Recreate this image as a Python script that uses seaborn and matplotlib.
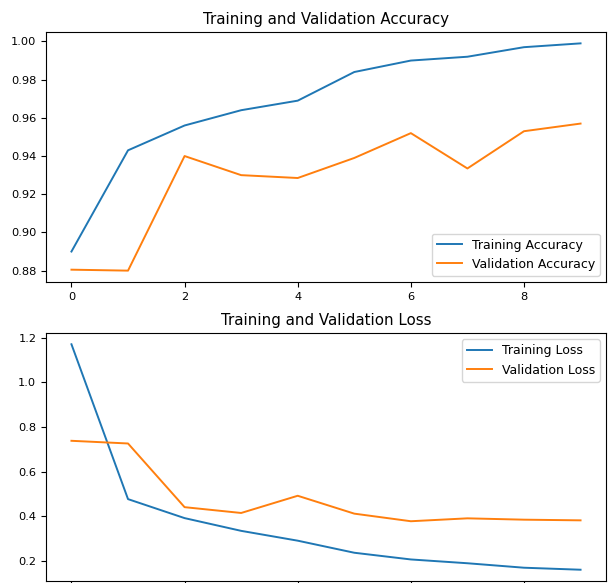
# %%
# 1. Import packages

import matplotlib
matplotlib.use("Agg")
import matplotlib.pyplot as plt
import seaborn as sns

# %%
# 2. Training history

epochs = list(range(10))
acc = [0.890, 0.943, 0.956, 0.964, 0.969, 0.984, 0.990, 0.992, 0.997, 0.999]
val_acc = [0.8805, 0.880, 0.940, 0.930, 0.9285, 0.939, 0.952, 0.9335, 0.953, 0.957]
loss = [1.170, 0.477, 0.392, 0.335, 0.291, 0.237, 0.207, 0.190, 0.170, 0.161]
val_loss = [0.738, 0.726, 0.441, 0.415, 0.492, 0.412, 0.378, 0.391, 0.385, 0.382]

# %%
# 3. Plot

plt.rcParams['font.family'] = ['DejaVu Sans']
plt.rcParams['xtick.labelsize'] = 8.2
plt.rcParams['ytick.labelsize'] = 8.2

blue = '#1f77b4'
orange = '#ff7f0e'

fig = plt.figure(figsize=(6.09, 5.83), dpi=100)
W, H = 609, 583

# Top: accuracy
ax1 = fig.add_axes([46 / W, 1 - 282 / H, 560 / W, 250 / H])
sns.lineplot(x=epochs, y=acc, ax=ax1, color=blue, linewidth=1.4, label='Training Accuracy')
sns.lineplot(x=epochs, y=val_acc, ax=ax1, color=orange, linewidth=1.4, label='Validation Accuracy')
ax1.legend(loc='lower right', fontsize=9)
ax1.set_title('Training and Validation Accuracy', fontsize=10.8)

# Bottom: loss
ax2 = fig.add_axes([46 / W, 1 - 581 / H, 560 / W, 248 / H])
sns.lineplot(x=epochs, y=loss, ax=ax2, color=blue, linewidth=1.4, label='Training Loss')
sns.lineplot(x=epochs, y=val_loss, ax=ax2, color=orange, linewidth=1.4, label='Validation Loss')
ax2.legend(loc='upper right', fontsize=9)
ax2.set_title('Training and Validation Loss', fontsize=10.8)

for ax in (ax1, ax2):
    ax.set_xticks([0, 2, 4, 6, 8])

ax2.set_yticks([0.2, 0.4, 0.6, 0.8, 1.0, 1.2])

fig.savefig('out.png', dpi=100)
